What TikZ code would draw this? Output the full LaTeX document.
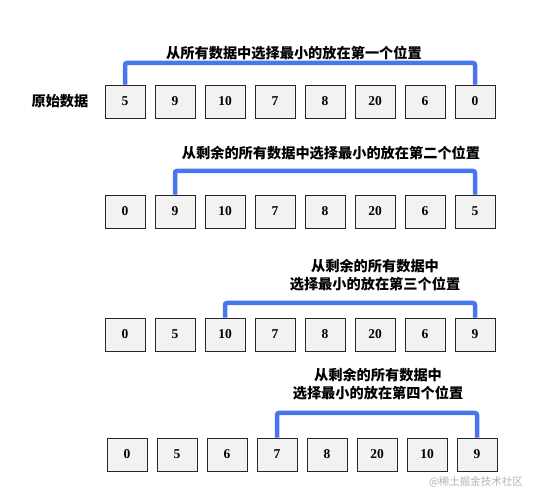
\documentclass[tikz,border=0pt]{standalone}
\usepackage{fontspec}
\setmainfont{Liberation Serif}
\newfontfamily\cjk{Noto Sans CJK SC}
\usepackage{tikz}
\usetikzlibrary{positioning}

\definecolor{cellgray}{RGB}{242,242,242}
\definecolor{linkblue}{RGB}{72,118,238}

\begin{document}
\begin{tikzpicture}[x=1pt,y=-1pt]
	 \tikzstyle{cell}=[draw=black!85,fill=cellgray,line width=0.9pt,minimum width=40pt,minimum height=33pt,inner sep=0pt,font=\fontsize{13.5}{14}\selectfont\bfseries]
	 \tikzstyle{link} = [draw,line width=4.5pt,linkblue,rounded corners=2pt]
	 \tikzstyle{note}=[align=center,font=\cjk\fontsize{14.2}{17.5}\selectfont\bfseries]
	 \useasboundingbox (0,0) rectangle (541,502);

	 % first pass
	 \node[note] (label) at (60,101) {原始数据};
	 \foreach \v [count=\i] in {5,9,10,7,8,20,6,0}
	   \node[cell] (a\i) at (75+50*\i,101.5) {\v};
	 \node[note] (t1) at (294,53) {从所有数据中选择最小的放在第一个位置};
	 \draw[link] (a1.north) -- (a1.north |- 0,63) -- (a8.north |- 0,63) -- (a8.north);

	 % second pass
	 \foreach \v [count=\i] in {0,9,10,7,8,20,6,5}
	   \node[cell] (b\i) at (75+50*\i,211.5) {\v};
	 \node[note] (t2) at (331,153) {从剩余的所有数据中选择最小的放在第二个位置};
	 \draw[link] (b2.north) -- (b2.north |- 0,171) -- (b8.north |- 0,171) -- (b8.north);

	 % third pass
	 \foreach \v [count=\i] in {0,5,10,7,8,20,6,9}
	   \node[cell] (c\i) at (75+50*\i,334.5) {\v};
	 \node[note] (t3) at (375,275) {从剩余的所有数据中\\选择最小的放在第三个位置};
	 \draw[link] (c3.north) -- (c3.north |- 0,303) -- (c8.north |- 0,303) -- (c8.north);

	 % fourth pass
	 \foreach \v [count=\i] in {0,5,6,7,8,20,10,9}
	   \node[cell] (d\i) at (77+50*\i,454.5) {\v};
	 \node[note] (t4) at (378,384) {从剩余的所有数据中\\选择最小的放在第四个位置};
	 \draw[link] (d4.north) -- (d4.north |- 0,413) -- (d8.north |- 0,413) -- (d8.north);

	 \node[text=black!30,font=\cjk\fontsize{10.5}{12}\selectfont] (mark) at (476,482) {@稀土掘金技术社区};

 \end{tikzpicture}
\end{document}
